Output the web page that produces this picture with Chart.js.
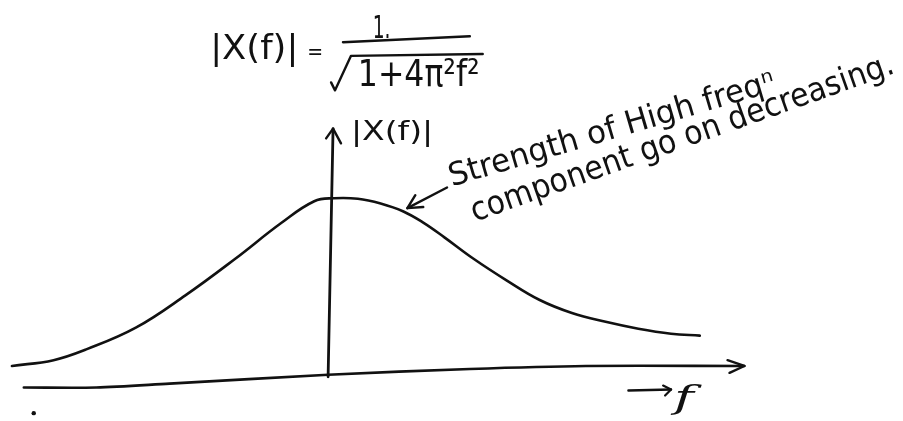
<!DOCTYPE html>
<html><head><meta charset="utf-8">
<script src="https://cdn.jsdelivr.net/npm/chart.js@4/dist/chart.umd.min.js"></script>
<style>html,body{margin:0;padding:0;background:#fff;overflow:hidden}#wrap{width:903px;height:421px}</style>
</head><body><div id="wrap"><canvas id="c" width="903" height="421"></canvas></div>
<script>
// ---- data (frequency f, magnitude |X(f)|) ----
const freq      = [-3.22,-2.80,-2.47,-1.97,-1.47,-0.97,-0.50,-0.17,0.03,0.27,0.50,0.73,0.93,1.14,1.43,1.77,2.10,2.43,2.77,3.10,3.43,3.72];
const magnitude = [0.05,0.083,0.144,0.267,0.45,0.656,0.861,0.983,1.0,0.997,0.970,0.925,0.862,0.780,0.660,0.535,0.425,0.35,0.30,0.261,0.233,0.222];

// hand-drawn axes
const fAxisF = [-3.10,-2.37,-1.63,-0.03,1.40,2.57,4.17];
const fAxisY = [-0.072,-0.072,-0.05,0,0.033,0.05,0.05];
const fHeadF = [4.00,4.17,4.02];
const fHeadY = [0.083,0.05,0.011];
const yAxisF = [-0.03,0.02];
const yAxisY = [-0.011,1.394];
const yHeadF = [-0.05,0.02,0.10];
const yHeadY = [1.339,1.394,1.311];

// annotation arrow ("strength ... decreasing")
const noteArrowF = [1.17,0.77];
const noteArrowY = [1.061,0.944];
const noteHeadF  = [0.85,0.77,0.93];
const noteHeadY  = [1.017,0.944,0.95];

// "→ f" arrow
const fLabelArrowF = [3.00,3.43];
const fLabelArrowY = [-0.089,-0.083];
const fLabelHeadF  = [3.35,3.43,3.37];
const fLabelHeadY  = [-0.061,-0.083,-0.117];

// formula strokes: fraction bar and square-root sign
const fracBarF = [0.12,1.40];
const fracBarY = [1.883,1.917];
const sqrtF = [0.00,0.04,0.20,1.53];
const sqrtY = [1.656,1.611,1.806,1.817];

// stray dot
const dotF = [-3.0];
const dotY = [-0.217];

// text labels
const texts = [
  {t:'|X(f)|', a:[-1.22,1.789], b:[-0.33,1.789], font:'34px "DejaVu Sans"'},
  {t:'=', a:[-0.24,1.789], b:[-0.08,1.789], font:'22px "DejaVu Sans"'},
  {t:'1.', a:[0.42,1.906], b:[0.60,1.906], font:'32px "DejaVu Sans"'},
  {t:'1+4\u03c0\u00b2f\u00b2', a:[0.27,1.633], b:[1.50,1.633], font:'38px "DejaVu Sans"'},
  {t:'|X(f)|', a:[0.20,1.328], b:[1.03,1.328], font:'26px "DejaVu Sans"'},
  {t:'f', a:[3.46,-0.189], b:[3.66,-0.189], font:'italic 32px "DejaVu Serif"'},
  {t:'Strength of High freq\u207f', a:[1.22,1.067], b:[4.50,1.611], font:'32px "DejaVu Sans"'},
  {t:'component go on decreasing.', a:[1.45,0.867], b:[5.70,1.711], font:'33px "DejaVu Sans"'}
];

const zip = (xs, ys) => xs.map((x, i) => ({x, y: ys[i]}));
const INK = '#111';
function stroke(xs, ys, w, tension) {
  return {data: zip(xs, ys), borderColor: INK, borderWidth: w, tension: tension || 0,
          pointRadius: 0, fill: false, borderCapStyle: 'round', borderJoinStyle: 'round'};
}

const textPlugin = {
  id: 'texts',
  afterDatasetsDraw(chart) {
    const {ctx, scales: {x, y}} = chart;
    ctx.save();
    ctx.fillStyle = INK;
    ctx.textBaseline = 'alphabetic';
    ctx.textAlign = 'left';
    for (const it of texts) {
      const x0 = x.getPixelForValue(it.a[0]), y0 = y.getPixelForValue(it.a[1]);
      const x1 = x.getPixelForValue(it.b[0]), y1 = y.getPixelForValue(it.b[1]);
      const len = Math.hypot(x1 - x0, y1 - y0);
      const ang = Math.atan2(y1 - y0, x1 - x0);
      ctx.font = it.font;
      const w = ctx.measureText(it.t).width;
      ctx.save();
      ctx.translate(x0, y0);
      ctx.rotate(ang);
      ctx.scale(len / w, 1);
      ctx.fillText(it.t, 0, 0);
      ctx.restore();
    }
    ctx.restore();
  }
};

new Chart(document.getElementById('c'), {
  type: 'line',
  data: {
    datasets: [
      stroke(freq, magnitude, 2.6, 0.4),
      stroke(fAxisF, fAxisY, 2.6, 0.3),
      stroke(fHeadF, fHeadY, 2.4),
      stroke(yAxisF, yAxisY, 2.8),
      stroke(yHeadF, yHeadY, 2.4),
      stroke(noteArrowF, noteArrowY, 2.4),
      stroke(noteHeadF, noteHeadY, 2.4),
      stroke(fLabelArrowF, fLabelArrowY, 2.4),
      stroke(fLabelHeadF, fLabelHeadY, 2.2),
      stroke(fracBarF, fracBarY, 2.4),
      stroke(sqrtF, sqrtY, 2.4),
      {data: zip(dotF, dotY), showLine: false, pointRadius: 2.2, pointBackgroundColor: INK, pointBorderWidth: 0}
    ]
  },
  options: {
    responsive: false,
    animation: false,
    events: [],
    layout: {padding: 0},
    plugins: {legend: {display: false}, tooltip: {enabled: false}},
    scales: {
      x: {type: 'linear', min: -3.3, max: 5.73, display: false},
      y: {type: 'linear', min: -0.2389, max: 2.1, display: false}
    }
  },
  plugins: [textPlugin]
});
</script>
</body></html>
